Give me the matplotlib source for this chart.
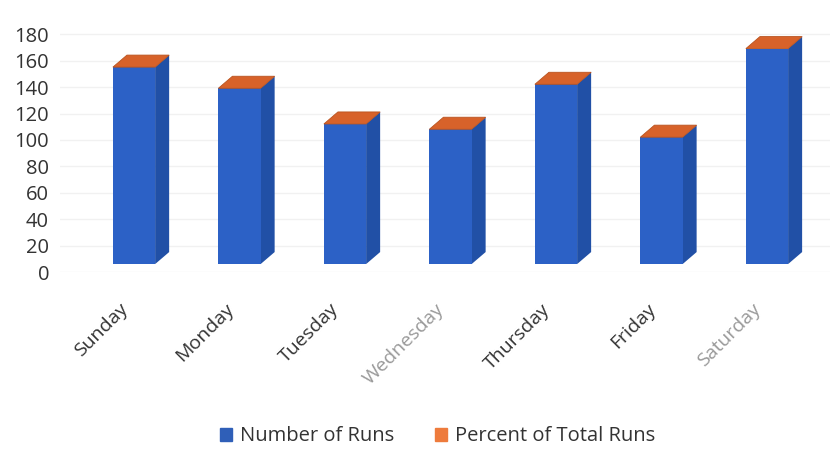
import matplotlib
matplotlib.use("Agg")
import matplotlib.pyplot as plt
import matplotlib.patches as mpatches
import matplotlib.transforms as mtransforms
from matplotlib.patches import Polygon

# data
days = ["Sunday", "Monday", "Tuesday", "Wednesday", "Thursday", "Friday", "Saturday"]
runs = [149, 133, 106, 102, 136, 96, 163]
total = sum(runs)
pct_runs = [r / total for r in runs]   # percent of total runs (as fraction)
yticks = [0, 20, 40, 60, 80, 100, 120, 140, 160, 180]

# ── style ──────────────────────────────────────────────
BLUE_FRONT = "#2c61c6"
BLUE_SIDE = "#2150a6"
ORANGE_TOP = "#d7622a"
ORANGE_FRONT = "#e06e30"
FLOOR = 6          # front edge of the 3D floor (value units)
W = 0.40           # front face width
DX, DY = 0.133, 9.1  # depth offset (x units, value units)

plt.rcParams["font.family"] = ["Open Sans", "DejaVu Sans"]

fig = plt.figure(figsize=(8.38, 4.57), dpi=100)
ax = fig.add_axes([0.0718, 0.4048, 0.919, 0.549])

x = list(range(len(days)))

# front faces
ax.bar(x, runs, width=W, bottom=FLOOR, color=BLUE_FRONT, zorder=3)
ax.bar(x, pct_runs, width=W, bottom=[FLOOR + r for r in runs],
       color=ORANGE_FRONT, zorder=3)

# side + top faces for the 3D look
for xi, r, p in zip(x, runs, pct_runs):
    top = FLOOR + r + p
    xr = xi + W / 2
    xl = xi - W / 2
    side = Polygon([(xr, FLOOR), (xr + DX, FLOOR + DY),
                    (xr + DX, top + DY), (xr, top)],
                   closed=True, facecolor=BLUE_SIDE, edgecolor="none", zorder=2)
    cap = Polygon([(xl, top), (xr, top), (xr + DX, top + DY), (xl + DX, top + DY)],
                  closed=True, facecolor=ORANGE_TOP, edgecolor="#b9531f",
                  linewidth=0.6, zorder=4)
    ax.add_patch(side)
    ax.add_patch(cap)

ax.set_xlim(-0.7, 6.6)
ax.set_ylim(0, 190)
ax.set_yticks(yticks)
ax.set_yticklabels([str(t) for t in yticks], fontsize=14.5, color="#333333")
ax.yaxis.grid(True, color="#f1f1f1", linewidth=1.0, zorder=0)
ax.set_axisbelow(True)

# category labels, rotated, sitting a little left of each bar centre
ax.set_xticks([])
lbl_trans = mtransforms.blended_transform_factory(ax.transData, ax.transAxes) + \
    mtransforms.ScaledTranslation(-15 / 100, -28 / 100, fig.dpi_scale_trans)
for xi, d in zip(x, days):
    ax.text(xi, 0, d, transform=lbl_trans, fontsize=14, rotation=45,
            ha="right", va="top", rotation_mode="anchor",
            color="#999999" if d in ("Wednesday", "Saturday") else "#333333")
ax.tick_params(axis="y", length=0, pad=8)
for spine in ax.spines.values():
    spine.set_visible(False)

# legend
handles = [
    mpatches.Patch(color="#2f5fb8", label="Number of Runs"),
    mpatches.Patch(color="#ee7b3c", label="Percent of Total Runs"),
]
fig.legend(handles=handles, loc="center", bbox_to_anchor=(0.522, 0.045),
           ncol=2, frameon=False, fontsize=14.5, handlelength=0.6,
           handleheight=0.6, handletextpad=0.4, columnspacing=2.0,
           labelcolor="#333333")

fig.savefig("out.png", dpi=100, facecolor="white")
plt.close(fig)
